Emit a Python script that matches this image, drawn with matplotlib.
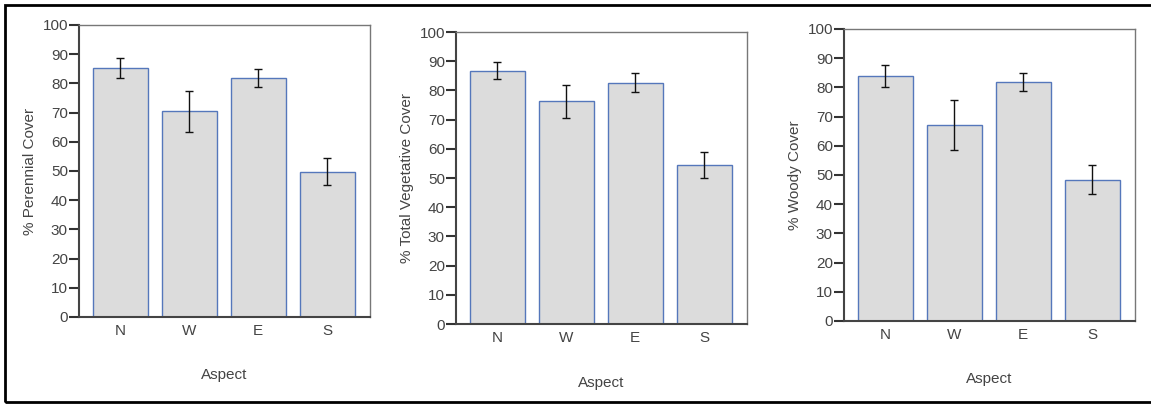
import numpy as np
import matplotlib.pyplot as plt
from matplotlib.patches import Rectangle

plt.rcParams['font.family'] = ['Liberation Sans', 'DejaVu Sans']

# data
aspects = ['N', 'W', 'E', 'S']
perennial = [85.3, 70.4, 81.7, 49.8]
perennial_err = [3.3, 6.9, 3.1, 4.5]
total_veg = [86.8, 76.2, 82.7, 54.5]
total_veg_err = [2.9, 5.8, 3.4, 4.5]
woody = [83.9, 67.2, 81.8, 48.4]
woody_err = [3.8, 8.6, 3.0, 4.9]

panels = [
    (perennial, perennial_err, '% Perennial Cover', (79, 25)),
    (total_veg, total_veg_err, '% Total Vegetative Cover', (456, 32)),
    (woody, woody_err, '% Woody Cover', (844, 29)),
]

W, H = 1151, 405
fig = plt.figure(figsize=(W/100, H/100), dpi=100)

# outer frame (left, top, bottom only; right edge is cropped)
fig.patches.append(Rectangle((5/W, 3/H), 1.2, (H-8)/H, transform=fig.transFigure,
                             fill=False, edgecolor='black', linewidth=2))

for vals, errs, ylab, (px, py) in panels:
    ax = fig.add_axes([px/W, (H - py - 292)/H, 291/W, 292/H])
    x = np.arange(len(aspects))
    ax.bar(x, vals, width=0.8, color='#dcdcdc', edgecolor='#5577bb', linewidth=1.0)
    ax.errorbar(x, vals, yerr=errs, fmt='none', ecolor='#111111', elinewidth=1.0,
                capsize=2.8, capthick=1.0)
    ax.set_xlim(-0.6, 3.62)
    ax.set_ylim(0, 100)
    ax.set_yticks(range(0, 101, 10))
    ax.set_xticks(x)
    ax.set_xticklabels(aspects)
    ax.tick_params(axis='x', length=0, pad=5, labelsize=11, labelcolor='#444444')
    ax.tick_params(axis='y', length=7, width=1.5, color='#333333', pad=1,
                   labelsize=11, labelcolor='#444444')
    for s in ['left', 'bottom']:
        ax.spines[s].set_linewidth(1.5)
        ax.spines[s].set_color('#444444')
    for s in ['top', 'right']:
        ax.spines[s].set_linewidth(1.0)
        ax.spines[s].set_color('#777777')
    ax.set_ylabel(ylab, fontsize=11, color='#444444', labelpad=4)
    ax.set_xlabel('Aspect', fontsize=11, color='#444444', labelpad=22)

fig.savefig('out.png', dpi=100)
